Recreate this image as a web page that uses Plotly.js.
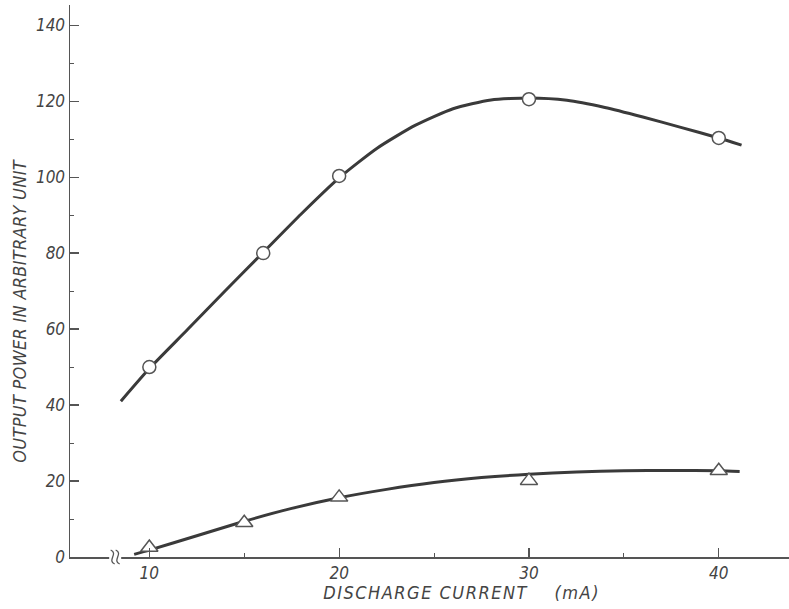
<!DOCTYPE html>
<html>
<head>
<meta charset="utf-8">
<script src="https://cdn.plot.ly/plotly-3.0.1.min.js"></script>
<style>
  html, body { margin: 0; padding: 0; background: #fff; }
  #chart { width: 789px; height: 609px; }
  /* spaced lettering for the axis captions */
  #chart g.annotation[data-index="0"] text { letter-spacing: 1.5px; }
  #chart g.annotation[data-index="1"] text { letter-spacing: 0.3px; }
</style>
</head>
<body>
<div id="chart"></div>
<script>
// Measured points: discharge current (mA) vs. output power (arbitrary unit)
const currentCircle = [10, 16, 20, 30, 40];
const powerCircle = [50, 80, 100.3, 120.5, 110.3];

const currentTriangle = [10, 15, 20, 30, 40];
const powerTriangle = [2.5, 9, 15.7, 20.1, 22.7];

// Hand-drawn trend curves through each series
const curveCircleX = [8.5, 10, 12, 14, 16, 18, 20, 22, 24, 26, 28, 30, 32, 34, 36, 38, 40, 41.2];
const curveCircleY = [41, 49.6, 59.8, 70.1, 80.2, 90.3, 99.8, 107.6, 113.6, 118, 120.3, 120.8, 120.2, 118.3, 115.8, 113.1, 110.3, 108.4];

const curveTriangleX = [9.2, 10, 12.5, 15, 17.5, 20, 22.5, 25, 27.5, 30, 32.5, 35, 37.5, 40, 41.1];
const curveTriangleY = [0.7, 1.8, 5.6, 9.4, 12.8, 15.6, 17.8, 19.6, 20.9, 21.8, 22.4, 22.7, 22.8, 22.7, 22.5];

const xTickVals = [10, 20, 30, 40];
const xTickText = ['10', '20', '30', '40'];
const yTickVals = [0, 20, 40, 60, 80, 100, 120, 140];
const yTickText = ['0', '20', '40', '60', '80', '100', '120', '140'];

const FONT = 'Liberation Sans Narrow, DejaVu Sans Condensed, Liberation Sans, sans-serif';
const INK = '#444';
const LINE = '#3a3a3a';
const X_RANGE = [5.82, 43.7];

const curveStyle = { color: LINE, width: 3, shape: 'spline', smoothing: 0.6 };

const traces = [
  { x: curveCircleX, y: curveCircleY, mode: 'lines', line: curveStyle, hoverinfo: 'skip' },
  { x: curveTriangleX, y: curveTriangleY, mode: 'lines', line: curveStyle, hoverinfo: 'skip' },
  {
    x: currentCircle, y: powerCircle, mode: 'markers', cliponaxis: false,
    marker: { symbol: 'circle', size: 13, color: '#fff', line: { color: '#555', width: 1.5 } }
  },
  {
    x: currentTriangle, y: powerTriangle, mode: 'markers', cliponaxis: false,
    marker: { symbol: 'triangle-up', size: 15, color: '#fff', line: { color: '#555', width: 1.5 } }
  }
];

// Axis break mark on the current axis at 8.2 mA; paper-referenced so it is not clipped
const breakAt = 8.2;
const breakFrac = (breakAt - X_RANGE[0]) / (X_RANGE[1] - X_RANGE[0]);
const wiggle = a => `M ${a - 2},7 C ${a + 6},3.5 ${a - 6},-3.5 ${a + 2},-7`;
const breakShape = extra => Object.assign({
  xref: 'paper', yref: 'paper', xsizemode: 'pixel', ysizemode: 'pixel',
  xanchor: breakFrac, yanchor: 0, layer: 'above'
}, extra);

const layout = {
  width: 789,
  height: 609,
  margin: { l: 70, r: 0, t: 5, b: 52 },
  paper_bgcolor: '#fff',
  plot_bgcolor: '#fff',
  showlegend: false,
  font: { family: FONT, color: INK, size: 17 },
  xaxis: {
    range: X_RANGE,
    showgrid: false, zeroline: false,
    showline: true, linecolor: '#555', linewidth: 1.5,
    ticks: 'inside', ticklen: 9, tickwidth: 1.2, tickcolor: '#555',
    tickvals: xTickVals, ticktext: xTickText,
    tickfont: { family: FONT, size: 17, color: INK, style: 'italic' },
    minor: { tickvals: [15, 25, 35], ticks: 'inside', ticklen: 4, tickcolor: '#555', tickwidth: 1 },
    fixedrange: true
  },
  yaxis: {
    range: [0, 145.3],
    showgrid: false, zeroline: false,
    showline: true, linecolor: '#555', linewidth: 1.5,
    ticks: 'inside', ticklen: 9, tickwidth: 1.2, tickcolor: '#555',
    tickvals: yTickVals, ticktext: yTickText,
    tickfont: { family: FONT, size: 17, color: INK, style: 'italic' },
    minor: { tickvals: [10, 30, 50, 70, 90, 110, 130], ticks: 'inside', ticklen: 4, tickcolor: '#555', tickwidth: 1 },
    fixedrange: true
  },
  shapes: [
    breakShape({ type: 'rect', x0: -6, x1: 6, y0: -3, y1: 3, fillcolor: '#fff', line: { width: 0 } }),
    breakShape({ type: 'path', path: wiggle(-2.5), line: { color: '#555', width: 1.3 } }),
    breakShape({ type: 'path', path: wiggle(2.5), line: { color: '#555', width: 1.3 } })
  ],
  annotations: [
    {
      text: 'DISCHARGE CURRENT&nbsp;&nbsp;&nbsp;&nbsp;(mA)',
      xref: 'paper', yref: 'paper', x: 0.544, y: 0,
      xanchor: 'center', yanchor: 'middle', yshift: -35, showarrow: false,
      font: { family: FONT, size: 18, color: INK, style: 'italic' }
    },
    {
      text: 'OUTPUT POWER IN ARBITRARY UNIT',
      xref: 'paper', yref: 'paper', x: -0.071, y: 0.447,
      xanchor: 'center', yanchor: 'middle', textangle: -90, showarrow: false,
      font: { family: FONT, size: 18, color: INK, style: 'italic' }
    }
  ]
};

Plotly.newPlot('chart', traces, layout, { displayModeBar: false, staticPlot: true });
</script>
</body>
</html>
